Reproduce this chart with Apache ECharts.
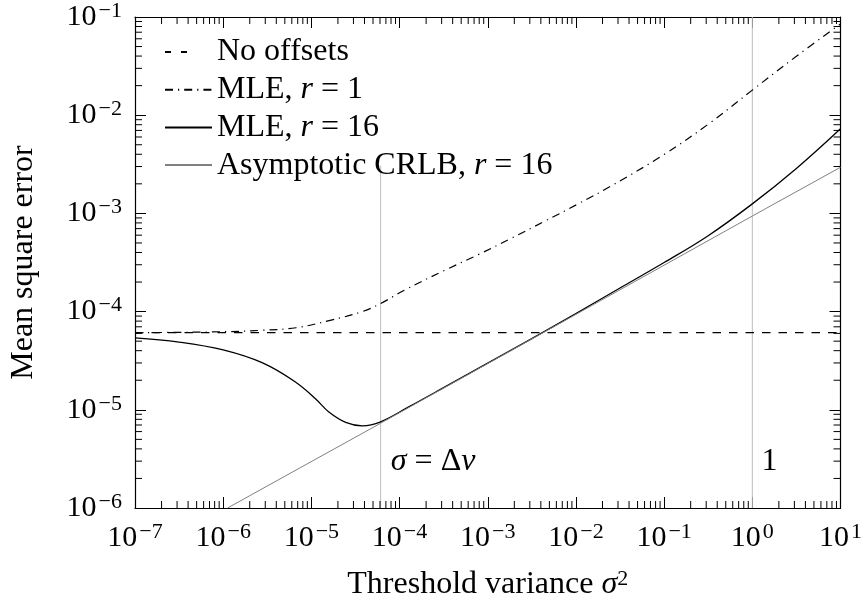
<!DOCTYPE html>
<html>
<head>
<meta charset="utf-8">
<script src="https://cdn.jsdelivr.net/npm/echarts@6/dist/echarts.min.js"></script>
<style>
  html, body { margin: 0; background: #fff; }
  #chart { width: 865px; height: 607px; }
</style>
</head>
<body>
<div id="chart"></div>
<script>
// values (x = threshold variance, y = MSE)
const noOffsets = [[1e-7, 6.1e-5], [10, 6.1e-5]];

const mleR1 = [
  [1e-7, 6.1e-5], [1e-6, 6.24e-5], [2.8e-6, 6.46e-5], [6.7e-6, 6.85e-5],
  [1.59e-5, 8.1e-5], [3.78e-5, 1.0e-4], [6.1e-5, 1.21e-4], [1.16e-4, 1.67e-4],
  [3.3e-4, 2.65e-4], [7.8e-4, 3.8e-4], [1.86e-3, 5.6e-4], [4.4e-3, 8.3e-4],
  [1.05e-2, 1.245e-3], [2.5e-2, 1.9e-3], [0.1, 3.98e-3], [0.316, 8.1e-3],
  [1, 1.8e-2], [3.16, 3.98e-2], [10, 8.5e-2]
];

const mleR16 = [
  [1e-7, 5.4e-5], [3.16e-7, 4.9e-5], [1e-6, 4.07e-5], [2.8e-6, 3.0e-5],
  [6.7e-6, 1.9e-5], [1.12e-5, 1.29e-5], [1.58e-5, 9.5e-6], [2.45e-5, 7.45e-6],
  [3.78e-5, 6.87e-6], [6.1e-5, 7.55e-6], [1.27e-4, 1.07e-5], [3.16e-4, 1.68e-5],
  [1e-3, 2.99e-5], [3.16e-3, 5.3e-5], [1e-2, 9.55e-5], [3.16e-2, 1.74e-4],
  [0.1, 3.16e-4], [0.316, 5.93e-4], [1, 1.25e-3], [3.16, 2.87e-3], [10, 7.28e-3]
];

const crlbR16 = [[1.12e-6, 1e-6], [6.1e-5, 7.3e-6], [4.1e-3, 6.0e-5], [1, 9.4e-4], [10, 2.95e-3]];

// vertical guide lines
const deltaVLine = [[6.1e-5, 1e-6], [6.1e-5, 3.06e-3]];
const unitLine = [[1, 1e-6], [1, 1e-1]];

const notes = [
  { name: 'dv', value: [7.96e-5, 2.97e-6], text: '{i|σ} = Δ{i|v}', align: 'left' },
  { name: 'one', value: [1.57, 2.97e-6], text: '1', align: 'center' }
];

const legendNames = ['No offsets', 'MLE, r = 1', 'MLE, r = 16', 'Asymptotic CRLB, r = 16'];

const X_MIN = 1e-7, X_MAX = 10, Y_MIN = 1e-6, Y_MAX = 1e-1;
const xDecades = [-7, -6, -5, -4, -3, -2, -1, 0];
const yDecades = [-6, -5, -4, -3, -2];
const minorSteps = [2, 3, 4, 5, 6, 7, 8, 9];

const FONT = 'Liberation Serif';
const TEXT_SIZE = 32;
const MAJOR_LEN = 11, MINOR_LEN = 7;

function minorValues(decades) {
  const out = [];
  decades.forEach(k => minorSteps.forEach(m => out.push(Number((m * Math.pow(10, k)).toPrecision(3)))));
  return out;
}
const xMinor = minorValues(xDecades);
const yMinor = minorValues(yDecades);

function powLabel(value) {
  const e = Math.round(Math.log10(value));
  return '{b|10}{e|' + (e < 0 ? '−' + (-e) : e) + '}';
}

const labelRich = {
  b: { fontFamily: FONT, fontSize: 30, color: '#000', lineHeight: 34 },
  e: { fontFamily: FONT, fontSize: 22, color: '#000', lineHeight: 20, verticalAlign: 'top', padding: [0, 0, 0, 2] }
};

const tickStyle = { stroke: '#000', lineWidth: 1 };

function axisBase(extra) {
  return Object.assign({
    type: 'log',
    logBase: 10,
    axisLine: { show: true, onZero: false, lineStyle: { color: '#000', width: 1.2 } },
    axisTick: { show: true, inside: true, length: MAJOR_LEN, lineStyle: { color: '#000', width: 1 } },
    minorTick: { show: false },
    splitLine: { show: false }
  }, extra);
}

function renderMinorX(params, api) {
  const v = api.value(0);
  const b = api.coord([v, Y_MIN]);
  const t = api.coord([v, Y_MAX]);
  return {
    type: 'group',
    children: [
      { type: 'line', shape: { x1: b[0], y1: b[1], x2: b[0], y2: b[1] - MINOR_LEN }, style: tickStyle },
      { type: 'line', shape: { x1: t[0], y1: t[1], x2: t[0], y2: t[1] + MINOR_LEN }, style: tickStyle }
    ]
  };
}

function renderMinorY(params, api) {
  const v = api.value(1);
  const l = api.coord([X_MIN, v]);
  const r = api.coord([X_MAX, v]);
  return {
    type: 'group',
    children: [
      { type: 'line', shape: { x1: l[0], y1: l[1], x2: l[0] + MINOR_LEN, y2: l[1] }, style: tickStyle },
      { type: 'line', shape: { x1: r[0], y1: r[1], x2: r[0] - MINOR_LEN, y2: r[1] }, style: tickStyle }
    ]
  };
}

const chart = echarts.init(document.getElementById('chart'));

chart.setOption({
  animation: false,
  backgroundColor: '#fff',
  grid: { left: 135, right: 21, top: 13, bottom: 92, containLabel: false },
  legend: {
    data: [
      { name: legendNames[0], lineStyle: { type: [6, 10, 6, 40] } },
      legendNames[1], legendNames[2], legendNames[3]
    ],
    orient: 'vertical',
    left: 164,
    top: 35,
    padding: 0,
    itemWidth: 47,
    itemHeight: 14,
    itemGap: 3.7,
    selectedMode: false,
    itemStyle: { opacity: 0 },
    formatter: name => name.replace(/\br =/, '{i|r} ='),
    textStyle: {
      fontFamily: FONT, fontSize: TEXT_SIZE, color: '#000', lineHeight: 34,
      rich: { i: { fontFamily: FONT, fontSize: TEXT_SIZE, fontStyle: 'italic', color: '#000', lineHeight: 34 } }
    }
  },
  xAxis: [
    axisBase({
      position: 'bottom',
      min: X_MIN, max: X_MAX, splitNumber: 8,
      axisLabel: { formatter: powLabel, rich: labelRich, margin: 13 },
      name: 'Threshold variance {i|σ}{s|2}',
      nameLocation: 'middle',
      nameGap: 60,
      nameTextStyle: {
        fontFamily: FONT, fontSize: TEXT_SIZE, color: '#000', lineHeight: 34,
        rich: {
          i: { fontFamily: FONT, fontSize: TEXT_SIZE, fontStyle: 'italic', color: '#000', lineHeight: 34 },
          s: { fontFamily: FONT, fontSize: 22, color: '#000', lineHeight: 20, verticalAlign: 'top' }
        }
      }
    }),
    axisBase({
      position: 'top',
      min: X_MIN, max: X_MAX, splitNumber: 8,
      axisLabel: { show: false }
    })
  ],
  yAxis: [
    axisBase({
      position: 'left',
      min: Y_MIN, max: Y_MAX, splitNumber: 5,
      axisLabel: { formatter: powLabel, rich: labelRich, margin: 13 },
      name: 'Mean square error',
      nameLocation: 'middle',
      nameGap: 95,
      nameTextStyle: { fontFamily: FONT, fontSize: TEXT_SIZE, color: '#000' }
    }),
    axisBase({
      position: 'right',
      min: Y_MIN, max: Y_MAX, splitNumber: 5,
      axisLabel: { show: false }
    })
  ],
  series: [
    {
      name: 'deltaV', type: 'line', data: deltaVLine, symbol: 'none', silent: true,
      lineStyle: { color: '#bdbdbd', width: 1 }, z: 1
    },
    {
      name: 'unit', type: 'line', data: unitLine, symbol: 'none', silent: true,
      lineStyle: { color: '#bdbdbd', width: 1 }, z: 1
    },
    {
      name: 'No offsets', type: 'line', data: noOffsets, symbol: 'none', silent: true,
      lineStyle: { color: '#000', width: 1.2, type: [8.5, 8] }
    },
    {
      name: 'MLE, r = 1', type: 'line', data: mleR1, symbol: 'none', silent: true, smooth: 0.4,
      lineStyle: { color: '#000', width: 1.2, type: [8, 5, 1.2, 5] }
    },
    {
      name: 'MLE, r = 16', type: 'line', data: mleR16, symbol: 'none', silent: true, smooth: 0.4,
      lineStyle: { color: '#000', width: 1.3 }
    },
    {
      name: 'Asymptotic CRLB, r = 16', type: 'line', data: crlbR16, symbol: 'none', silent: true,
      lineStyle: { color: '#808080', width: 1 }
    },
    {
      name: 'notes', type: 'scatter', silent: true, symbolSize: 1,
      itemStyle: { color: 'rgba(255,255,255,0)', opacity: 1 },
      data: notes.map(n => ({
        name: n.name,
        value: n.value,
        label: {
          show: true, position: 'inside', align: n.align, verticalAlign: 'middle',
          formatter: n.text, fontFamily: FONT, fontSize: TEXT_SIZE, color: '#000',
          opacity: 1, textBorderWidth: 0,
          rich: { i: { fontFamily: FONT, fontSize: TEXT_SIZE, fontStyle: 'italic', color: '#000' } }
        }
      }))
    },
    {
      name: 'xMinor', type: 'custom', silent: true, renderItem: renderMinorX,
      data: xMinor.map(v => [v, Y_MIN])
    },
    {
      name: 'yMinor', type: 'custom', silent: true, renderItem: renderMinorY,
      data: yMinor.map(v => [X_MIN, v])
    }
  ]
});
</script>
</body>
</html>
